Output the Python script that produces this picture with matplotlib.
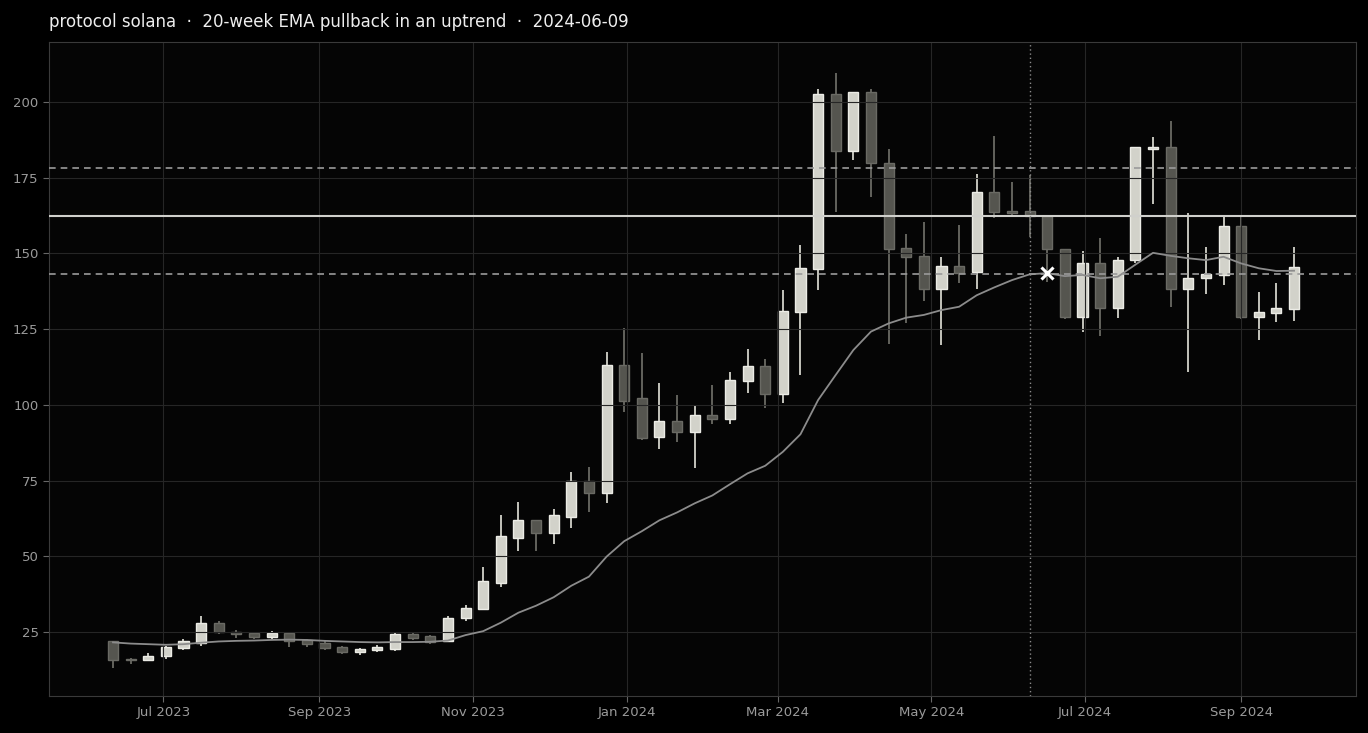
import matplotlib
matplotlib.use("Agg")
import matplotlib.pyplot as plt
import matplotlib.dates as mdates
import numpy as np
import pandas as pd

# ---- data ----
start_week = "2023-06-11"
n_weeks = 68
opens = [22.1, 16.0, 15.8, 17.0, 19.6, 21.3, 27.9, 25.1, 24.6, 23.3,
         24.6, 22.3, 21.3, 20.0, 18.3, 19.0, 19.5, 24.3, 23.6, 22.0,
         29.5, 32.7, 41.3, 56.2, 61.9, 57.8, 63.1, 74.9, 71.0, 113.2,
         102.2, 89.3, 94.7, 90.9, 96.6, 95.5, 107.8, 112.7, 103.6, 130.6,
         144.8, 202.5, 183.7, 203.4, 180.0, 151.7, 149.0, 138.1, 146.0, 143.8,
         170.4, 164.0, 163.9, 162.5, 151.6, 128.9, 147.0, 131.9, 147.7, 184.6,
         185.3, 138.2, 141.8, 142.9, 159.2, 128.9, 130.2, 131.6]
highs = [22.2, 16.6, 18.0, 20.4, 22.6, 30.3, 28.5, 25.6, 25.0, 25.3,
         25.1, 22.6, 22.0, 20.4, 19.6, 20.6, 24.8, 24.8, 24.0, 30.3,
         33.9, 46.4, 63.6, 68.1, 61.9, 65.5, 77.8, 79.4, 117.6, 125.4,
         117.0, 107.1, 103.3, 99.6, 106.5, 110.8, 118.3, 115.0, 137.9, 152.7,
         204.3, 209.7, 203.4, 204.3, 184.4, 156.3, 160.3, 148.9, 159.4, 176.1,
         188.7, 173.7, 175.9, 162.5, 151.6, 150.9, 155.0, 148.7, 185.0, 188.3,
         193.8, 163.5, 152.0, 162.4, 162.0, 137.4, 140.1, 152.0]
lows = [13.3, 14.5, 15.6, 16.1, 19.0, 20.5, 24.3, 23.2, 22.6, 22.6,
        20.2, 20.0, 19.0, 17.6, 17.3, 18.5, 18.6, 22.5, 21.1, 21.7,
        28.5, 32.2, 40.0, 51.9, 51.6, 54.0, 59.2, 64.5, 67.5, 97.8,
        88.4, 85.6, 87.6, 79.0, 93.6, 93.6, 103.8, 98.9, 100.5, 109.9,
        137.9, 163.6, 180.8, 168.7, 120.1, 126.9, 134.4, 119.8, 140.3, 138.1,
        161.8, 162.1, 155.5, 140.7, 128.5, 124.0, 122.8, 128.6, 147.0, 166.3,
        132.4, 111.0, 136.6, 139.6, 128.5, 121.4, 127.2, 127.7]
closes = [15.8, 15.8, 17.2, 20.0, 22.0, 27.9, 25.1, 24.3, 23.3, 24.6,
          22.0, 21.0, 19.6, 18.3, 19.3, 20.0, 24.3, 23.2, 21.7, 29.5,
          33.1, 41.7, 56.6, 61.9, 57.8, 63.6, 74.9, 71.0, 113.2, 101.4,
          89.2, 94.7, 90.9, 96.6, 95.4, 108.1, 112.7, 103.5, 131.0, 145.1,
          202.5, 183.8, 203.4, 179.8, 151.4, 148.7, 138.1, 146.0, 143.6, 170.4,
          163.6, 163.5, 162.5, 151.4, 128.9, 147.0, 131.9, 147.9, 185.0, 185.3,
          138.1, 142.0, 143.2, 159.2, 128.9, 130.6, 131.9, 145.4]
ema20 = [21.6, 21.2, 21.0, 20.8, 21.0, 21.5, 21.9, 22.1, 22.2, 22.4,
         22.5, 22.4, 22.1, 21.9, 21.7, 21.6, 21.7, 21.7, 21.8, 22.2,
         24.0, 25.3, 28.1, 31.4, 33.7, 36.5, 40.3, 43.3, 49.9, 55.0,
         58.3, 61.9, 64.5, 67.5, 70.1, 73.8, 77.4, 79.9, 84.5, 90.3,
         101.6, 109.9, 118.1, 124.2, 126.9, 128.8, 129.7, 131.3, 132.4, 136.2,
         138.8, 141.2, 143.1, 143.5, 142.5, 142.9, 141.8, 142.3, 146.3, 150.2,
         149.2, 148.4, 147.8, 148.9, 146.7, 145.1, 144.2, 144.3]
signal_date = "2024-06-09"
entry_date = "2024-06-16"
entry_price = 143.5
level_mid = 162.5
level_upper = 178.2
level_lower = 143.3
title = "protocol solana  \u00b7  20-week EMA pullback in an uptrend  \u00b7  2024-06-09"

# ---- plot ----
dates = pd.date_range(start_week, periods=n_weeks, freq="7D")
x = mdates.date2num(dates.to_pydatetime())
o = np.array(opens); h = np.array(highs); l = np.array(lows); c = np.array(closes)
up = c >= o

fig = plt.figure(figsize=(13.68, 7.33), dpi=100, facecolor="#000000")
ax = fig.add_axes([0.0358, 0.0505, 0.9554, 0.8922])
ax.set_facecolor("#050505")

light_fill, light_edge = "#d2d2ca", "#ecece6"
dark_fill, dark_edge = "#55554f", "#6a6a64"

wick_cols = [light_fill if u else "#6a6a64" for u in up]
ax.vlines(x, l, h, colors=wick_cols, linewidth=1.3, zorder=1)
bottoms = np.minimum(o, c)
heights = np.maximum(np.abs(c - o), 0.4)
ax.bar(x, heights, bottom=bottoms, width=4.0,
       color=[light_fill if u else dark_fill for u in up],
       edgecolor=[light_edge if u else dark_edge for u in up],
       linewidth=1.0, zorder=1.2)

ax.plot(x, ema20, color="#8c8c8c", linewidth=1.3, zorder=3)

ax.axhline(level_mid, color="#d0d0cc", linewidth=1.5, zorder=4)
ax.axhline(level_upper, color="#9a9a9a", linewidth=1.2, linestyle=(0, (4, 3)), zorder=4)
ax.axhline(level_lower, color="#9a9a9a", linewidth=1.2, linestyle=(0, (4, 3)), zorder=4)
sd = mdates.date2num(pd.Timestamp(signal_date).to_pydatetime())
ax.axvline(sd, color="#8a8a8a", linewidth=1.0, linestyle=(0, (1, 2)), zorder=4)
ed = mdates.date2num(pd.Timestamp(entry_date).to_pydatetime())
ax.plot([ed], [entry_price], marker="x", color="#ffffff", markersize=9, mew=2.2, zorder=5)

ax.set_ylim(3.9, 219.8)
ax.set_xlim(mdates.date2num(pd.Timestamp("2023-05-16 14:00").to_pydatetime()),
            mdates.date2num(pd.Timestamp("2024-10-16 14:00").to_pydatetime()))
ax.set_yticks([25, 50, 75, 100, 125, 150, 175, 200])
ax.xaxis.set_major_locator(mdates.MonthLocator(bymonth=[1, 3, 5, 7, 9, 11]))
ax.xaxis.set_major_formatter(mdates.DateFormatter("%b %Y"))

ax.grid(True, color="#262626", linewidth=0.8)
for s in ax.spines.values():
    s.set_color("#3a3a3a")
ax.tick_params(colors="#666666", labelcolor="#9a9a9a", labelsize=9.5, length=4)

ax.set_title(title, loc="left", color="#eeeeee", fontsize=12, pad=11)

fig.savefig("out.png", dpi=100, facecolor=fig.get_facecolor())
